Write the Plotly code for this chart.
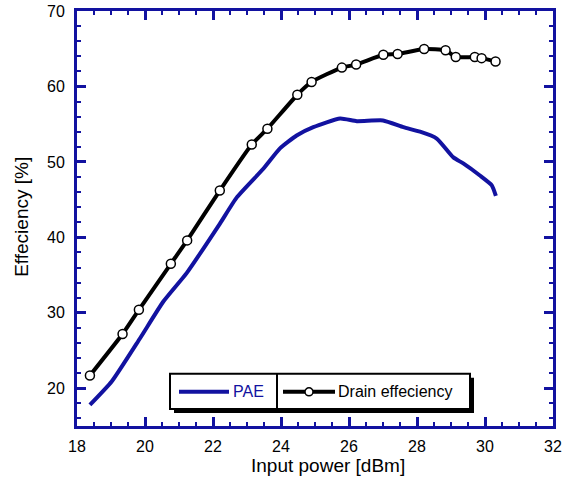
import plotly.graph_objects as go

# Drain efficiency (markers)
drain_x = [18.38, 19.34, 19.82, 20.76, 21.24, 22.2, 23.14, 23.6, 24.48, 24.9,
           25.79, 26.21, 27.01, 27.43, 28.21, 28.84, 29.14, 29.7, 29.9, 30.31]
drain_y = [21.7, 27.2, 30.4, 36.5, 39.6, 46.2, 52.3, 54.4, 58.9, 60.6,
           62.5, 62.9, 64.2, 64.3, 64.96, 64.8, 63.9, 63.9, 63.75, 63.3]

# PAE (line)
pae_x = [18.38, 19.02, 19.85, 20.54, 21.23, 22.2, 22.7, 23.48, 23.97, 24.46, 24.95,
         25.74, 26.23, 27.0, 27.6, 28.09, 28.58, 29.07, 29.36, 29.85, 30.2, 30.32]
pae_y = [17.8, 20.9, 26.6, 31.5, 35.3, 41.8, 45.3, 49.1, 51.8, 53.5, 54.6,
         55.76, 55.4, 55.5, 54.6, 54.0, 53.1, 50.6, 49.8, 48.2, 46.9, 45.5]

x_title = "Input power [dBm]"
y_title = "Effeciency [%]"

BLUE = "#1212a0"
FONT = "Liberation Sans, Arial, sans-serif"

fig = go.Figure()
fig.add_trace(go.Scatter(x=pae_x, y=pae_y, mode="lines", name="PAE",
                         line=dict(color=BLUE, width=4, shape="spline", smoothing=0.5)))
fig.add_trace(go.Scatter(x=drain_x, y=drain_y, mode="lines+markers", name="Drain effeciency",
                         line=dict(color="black", width=4, shape="spline", smoothing=0.5),
                         marker=dict(symbol="circle", size=9, color="white",
                                     line=dict(color="black", width=1.5))))

# Manual legend (in data coordinates)
def px2x(p):
    return 18 + (p - 77) / 34.0

def py2y(p):
    return 70 - (p - 11.5) / 7.5

L, R, T, B = px2x(170), px2x(470), py2y(372), py2y(407)
shapes = [
    dict(type="rect", x0=px2x(174), x1=px2x(474), y0=py2y(411), y1=py2y(376),
         fillcolor="black", line=dict(width=0), xref="x", yref="y"),
    dict(type="rect", x0=L, x1=R, y0=B, y1=T, fillcolor="white",
         line=dict(color="black", width=2), xref="x", yref="y"),
    dict(type="line", x0=px2x(277), x1=px2x(277), y0=B, y1=T,
         line=dict(color="black", width=2), xref="x", yref="y"),
    dict(type="line", x0=px2x(179), x1=px2x(229), y0=py2y(390), y1=py2y(390),
         line=dict(color=BLUE, width=4), xref="x", yref="y"),
    dict(type="line", x0=px2x(283), x1=px2x(335), y0=py2y(390), y1=py2y(390),
         line=dict(color="black", width=4), xref="x", yref="y"),
    dict(type="circle", x0=px2x(305), x1=px2x(313), y0=py2y(394), y1=py2y(386),
         fillcolor="white", line=dict(color="black", width=1.5), xref="x", yref="y"),
]
annotations = [
    dict(x=px2x(231), y=py2y(390), text="PAE", showarrow=False, xanchor="left",
         yanchor="middle", font=dict(family=FONT, size=16, color=BLUE), xref="x", yref="y"),
    dict(x=px2x(336), y=py2y(390), text="Drain effeciency", showarrow=False, xanchor="left",
         yanchor="middle", font=dict(family=FONT, size=16, color="black"), xref="x", yref="y"),
    dict(x=0.527, y=-0.094, xref="paper", yref="paper", text=x_title, showarrow=False,
         xanchor="center", yanchor="middle", font=dict(family=FONT, size=19, color="black")),
    dict(x=-0.1155, y=0.504, xref="paper", yref="paper", text=y_title, showarrow=False,
         textangle=-90, xanchor="center", yanchor="middle",
         font=dict(family=FONT, size=19, color="black")),
]

axis_common = dict(
    showline=True, linecolor=BLUE, linewidth=3, mirror="allticks",
    ticks="inside", ticklen=9, tickwidth=2.5, tickcolor=BLUE,
    showgrid=False, zeroline=False, automargin=False,
    tickfont=dict(family=FONT, size=16, color="black"),
)

fig.update_layout(
    width=564, height=482,
    margin=dict(l=77, r=11, t=11, b=56),
    paper_bgcolor="white", plot_bgcolor="white",
    showlegend=False,
    shapes=shapes, annotations=annotations,
    xaxis=dict(range=[18, 32], tick0=18, dtick=2, ticklabelstandoff=4,
               minor=dict(dtick=0.5, ticks="inside", ticklen=4, tickwidth=2, tickcolor=BLUE),
               **axis_common),
    yaxis=dict(range=[15, 70], tick0=0, dtick=10, ticklabelstandoff=6,
               minor=dict(dtick=2, ticks="inside", ticklen=4, tickwidth=2, tickcolor=BLUE),
               **axis_common),
)

fig.write_html("out.html")
